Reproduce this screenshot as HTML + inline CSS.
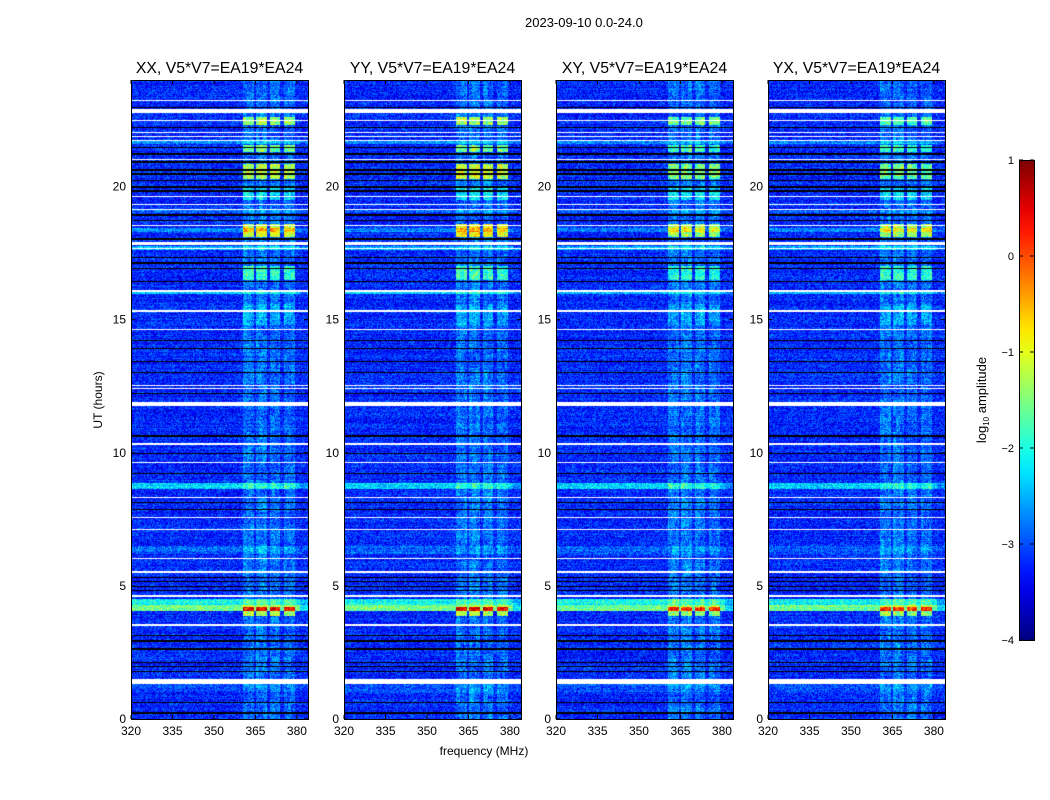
<!DOCTYPE html>
<html><head><meta charset="utf-8">
<style>
body{margin:0;background:#fff;font-family:"Liberation Sans",sans-serif;}
#root{position:relative;width:1050px;height:800px;overflow:hidden;}
.t{position:absolute;font-size:12px;color:#000;white-space:nowrap;}
canvas{position:absolute;}
</style></head>
<body><div id="root">
<div class="t" style="left:525px;top:15px;font-size:13px">2023-09-10 0.0-24.0</div>
<svg id="ov" width="1050" height="800" style="position:absolute;left:0;top:0"></svg>
</div>
<script>
// ---- data ----
const panels = ["XX, V5*V7=EA19*EA24","YY, V5*V7=EA19*EA24","XY, V5*V7=EA19*EA24","YX, V5*V7=EA19*EA24"];
const xTicks = [320,335,350,365,380];
const yTicks = [0,5,10,15,20];
const cbTicks = [1,0,-1,-2,-3,-4];
const baseLevel = -3.2;
// frequency stripes with elevated level (MHz start, end, boost)
const stripeStart = [360.5,365.3,370.2,375.4];
const stripeEnd   = [364.3,369.2,374.0,379.3];
const stripeBoost = [0.4,0.45,0.4,0.35];
// full-width bands (hours)
const bandStart = [8.65,4.05,4.3,15.95,17.6,21.6,18.3,19.0,1.0,6.2];
const bandEnd   = [8.85,4.3,4.5,16.1,17.75,21.75,18.45,19.15,1.4,6.5];
const bandLevel = [0.9,1.6,1.1,0.8,0.7,0.5,0.5,0.3,0.2,0.3];
// RFI in stripes (hours), level per panel
const rfiStart = [22.3,21.3,20.3,18.1,16.5,3.85,14.8,19.5];
const rfiEnd   = [22.6,21.55,20.85,18.6,17.0,4.2,15.6,20.0];
const rfiXX = [1.4,1.3,1.6,1.9,1.0,1.7,0.3,0.7];
const rfiYY = [1.6,1.4,1.8,2.0,1.0,1.7,0.3,0.7];
const rfiXY = [1.3,1.1,1.4,1.6,0.9,1.5,0.3,0.6];
const rfiYX = [1.2,1.0,1.3,1.6,0.9,1.5,0.3,0.6];
const rfiSets = [rfiXX,rfiYY,rfiXY,rfiYX];
// flagged rows (hours): white and black
const whiteStart = [23.2,22.75,22.45,22.0,21.85,21.7,21.0,19.6,19.3,19.1,18.5,17.8,17.65,16.05,15.3,14.6,12.5,12.4,11.75,10.3,9.6,8.3,7.55,7.1,6.0,5.5,4.6,3.5,1.3];
const whiteEnd   = [23.25,22.9,22.5,22.05,21.9,21.75,21.05,19.65,19.35,19.15,18.55,17.92,17.7,16.1,15.35,14.65,12.55,12.45,11.9,10.35,9.65,8.35,7.6,7.15,6.05,5.55,4.65,3.55,1.5];
const blackStart = [22.95,22.2,21.45,21.2,20.9,20.6,20.45,20.2,19.95,19.8,18.9,18.7,18.0,17.3,17.1,16.9,16.4,14.2,13.9,13.4,13.0,12.2,10.6,9.95,9.2,8.1,7.85,5.3,5.15,4.95,4.8,3.1,2.9,2.6,2.1,1.95,1.75,0.6,0.2];
const blackEnd   = [23.0,22.25,21.5,21.25,20.95,20.67,20.5,20.25,20.02,19.85,18.97,18.75,18.05,17.35,17.15,16.95,16.45,14.25,13.95,13.45,13.05,12.25,10.65,10.0,9.25,8.15,7.9,5.35,5.2,5.0,4.85,3.15,2.95,2.65,2.15,2.0,1.8,0.65,0.25];

// ---- geometry ----
const pLeft=[131,344,556,768], pW=177, pTop=80, pH=639;
const fMin=320,fMax=384, hMax=24;
const xScale=(i,f)=>pLeft[i]+(f-fMin)/(fMax-fMin)*pW;
const yScale=h=>pTop+pH-(h/hMax)*pH;
function jet(t){t=Math.max(0,Math.min(1,t));
 const r=Math.max(0,Math.min(1,1.5-Math.abs(4*t-3))),g=Math.max(0,Math.min(1,1.5-Math.abs(4*t-2))),b=Math.max(0,Math.min(1,1.5-Math.abs(4*t-1)));
 return [r*255|0,g*255|0,b*255|0];}
function hash(a,b,c){let h=(a*374761393+b*668265263+c*2147483647)|0;h=(h^(h>>>13))*1274126177|0;h^=h>>>16;return ((h>>>0)%10000)/10000;}
function inRanges(v,s,e){for(let k=0;k<s.length;k++) if(v>=s[k]&&v<=e[k]) return k;return -1;}

const root=document.getElementById('root');
const ov=document.getElementById('ov');
const NS="http://www.w3.org/2000/svg";
function sv(tag,attrs,parent){const e=document.createElementNS(NS,tag);for(const k in attrs)e.setAttribute(k,attrs[k]);(parent||ov).appendChild(e);return e;}
function txt(x,y,s,anchor,size){const e=sv('text',{x:x,y:y,'text-anchor':anchor||'middle','font-size':size||12,'font-family':'Liberation Sans, sans-serif'});e.textContent=s;return e;}

panels.forEach((title,i)=>{
 const cv=document.createElement('canvas');cv.width=pW;cv.height=pH;
 cv.style.left=pLeft[i]+'px';cv.style.top=pTop+'px';
 
 
 root.insertBefore(cv,ov);
 const ctx=cv.getContext('2d');const img=ctx.createImageData(pW,pH);
 const rfi=rfiSets[i];
 for(let y=0;y<pH;y++){
  const h=(pH-y-0.5)/pH*hMax;
  const wi=inRanges(h,whiteStart,whiteEnd), bi=inRanges(h,blackStart,blackEnd);
  const ba=inRanges(h,bandStart,bandEnd), ri=inRanges(h,rfiStart,rfiEnd);
  const rowN=(hash(y,i,7)-0.5)*0.25;
  for(let x=0;x<pW;x++){
   const f=fMin+(x+0.5)/pW*(fMax-fMin);
   let c;
   if(wi>=0) c=[255,255,255];
   else if(bi>=0) c=[0,0,0];
   else{
    let v=baseLevel+rowN+(hash(x,y,i)-0.5)*0.9;
    const si=inRanges(f,stripeStart,stripeEnd);
    if(si>=0) v+=stripeBoost[si]*(0.5+0.8*hash(x>>2,y>>4,i+3));
    if(ba>=0) v+=bandLevel[ba]*(f<381?1:0.6);
    if(ri>=0&&si>=0) v+=rfi[ri]*(0.8+0.3*hash(x>>1,y,i+9));
    c=jet((v+4)/5);
   }
   const o=(y*pW+x)*4;img.data[o]=c[0];img.data[o+1]=c[1];img.data[o+2]=c[2];img.data[o+3]=255;
  }
 }
 ctx.putImageData(img,0,0);
 const L=pLeft[i];
 const fr=sv('rect',{x:L+0.5,y:pTop+0.5,width:pW,height:pH,fill:'none',stroke:'#000','stroke-width':1});
 
 
 const pt=txt(L+pW/2,pTop-7,title,'middle',15.8);
 
 
 xTicks.forEach(t=>{const x=xScale(i,t);
  sv('line',{x1:x,x2:x,y1:pTop+pH,y2:pTop+pH-4,stroke:'#000'});sv('line',{x1:x,x2:x,y1:pTop,y2:pTop+4,stroke:'#000'});
  const e=txt(x,pTop+pH+16,String(t));
  
  });
 yTicks.forEach(t=>{const y=yScale(t);
  sv('line',{x1:L,x2:L+4,y1:y,y2:y,stroke:'#000'});sv('line',{x1:L+pW,x2:L+pW-4,y1:y,y2:y,stroke:'#000'});
  const e=txt(L-5,y+4,String(t),'end');
  
  });
});
const xl=txt(484,755,'frequency (MHz)');


const yl=txt(0,0,'UT (hours)');yl.setAttribute('transform','translate(102,400) rotate(-90)');


// colorbar
const defs=sv('defs',{});const g=sv('linearGradient',{id:'jg',x1:0,y1:1,x2:0,y2:0},defs);
for(let k=0;k<=20;k++){const c=jet(k/20);sv('stop',{offset:k/20,'stop-color':`rgb(${c})`},g);}
const cbTop=160,cbH=480,cbL=1019,cbW=15;
const cb=sv('rect',{x:cbL+0.5,y:cbTop+0.5,width:cbW,height:cbH,fill:'url(#jg)',stroke:'#000'});


cbTicks.forEach(t=>{const y=cbTop+(1-t)/5*cbH;
 sv('line',{x1:cbL,x2:cbL+4,y1:y,y2:y,stroke:'#000'});sv('line',{x1:cbL+cbW,x2:cbL+cbW-4,y1:y,y2:y,stroke:'#000'});
 const e=txt(cbL-5,y+4,t<0?'\u2212'+(-t):String(t),'end',11);
 
 });
const cl=sv('text',{transform:'translate(986,400) rotate(-90)','text-anchor':'middle','font-size':13,'font-family':'Liberation Sans, sans-serif'});
cl.innerHTML='log<tspan font-size="8" dy="3">10</tspan><tspan dy="-3"> amplitude</tspan>';


</script>
</body></html>
